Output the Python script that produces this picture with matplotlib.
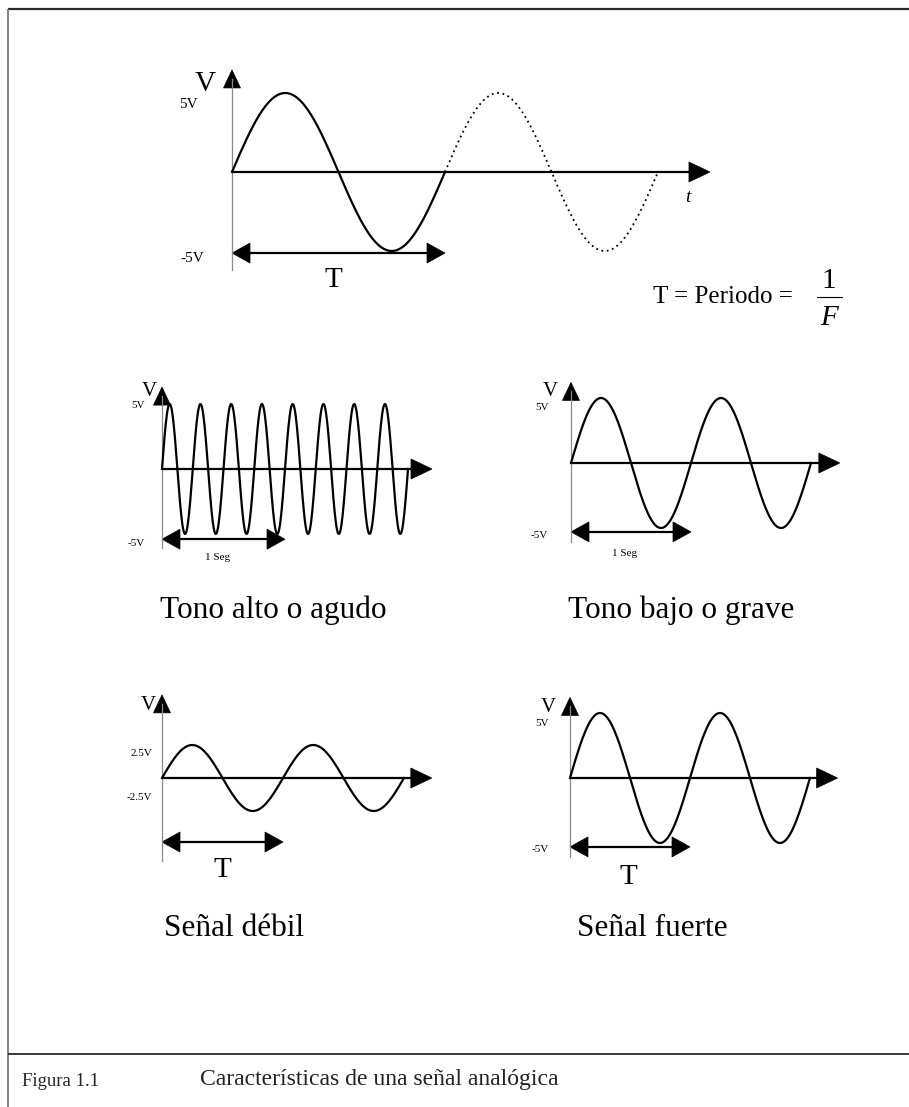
import numpy as np
import matplotlib
matplotlib.use("Agg")
import matplotlib.pyplot as plt
from matplotlib.patches import Polygon
from matplotlib import transforms

# ---------------- signal data ----------------
# main diagram: one drawn period plus one dotted continuation
main_amp = 5.0          # V
main_freq = 1.0         # one period per unit of t  (T = 1/F)
main_solid_cycles = 1
main_dotted_cycles = 1

# high / low pitch (1 s reference arrow)
high_amp = 5.0
high_freq = 4.0         # Hz
high_cycles = 8
low_amp = 5.0
low_freq = 1.0          # Hz
low_cycles = 2

# weak / strong signal (same period, different amplitude)
weak_amp = 2.5
strong_amp = 5.0
sig_freq = 1.0
sig_cycles = 2

captions = ["Tono alto o agudo", "Tono bajo o grave", "Señal débil", "Señal fuerte"]
amp_labels_main = ["5V", "-5V"]
amp_labels_weak = ["2.5V", "-2.5V"]

# ---------------- figure ----------------
W, H, DPI = 909, 1107, 100
SERIF = ["Liberation Serif", "DejaVu Serif"]
plt.rcParams["font.family"] = SERIF

fig = plt.figure(figsize=(W / DPI, H / DPI), dpi=DPI)
fig.patch.set_facecolor("white")

# page overlay in pixel units (frame, captions, labels)
page = fig.add_axes([0, 0, 1, 1])
page.set_xlim(0, W)
page.set_ylim(H, 0)
page.axis("off")
page.patch.set_alpha(0)

page.plot([8, W], [9, 9], color="#2a2a2a", lw=1.6, solid_capstyle="butt")
page.plot([8, 8], [9, H], color="#7a7a7a", lw=1.3, solid_capstyle="butt")
page.plot([8, W], [1054, 1054], color="#2a2a2a", lw=1.3, solid_capstyle="butt")
page.text(22, 1081, "Figura 1.1", fontsize=13.5, va="center", ha="left", color="#222")
page.text(200, 1080, "Características de una señal analógica", fontsize=17,
          va="center", ha="left", color="#222")


def panel(x0, y0, sx, sy, tmin, tmax, vmin, vmax):
    """Axes whose data origin sits at pixel (x0, y0); sx px per t-unit, sy px per volt."""
    left = (x0 + tmin * sx) / W
    right = (x0 + tmax * sx) / W
    top = 1 - (y0 - vmax * sy) / H
    bottom = 1 - (y0 - vmin * sy) / H
    ax = fig.add_axes([left, bottom, right - left, top - bottom])
    ax.set_xlim(tmin, tmax)
    ax.set_ylim(vmin, vmax)
    ax.axis("off")
    ax.patch.set_alpha(0)
    ax._sx, ax._sy = sx, sy
    return ax


def head(ax, x, y, direction, length=20, width=20, color="black"):
    """Filled triangular arrow head (pixel sized) with its tip at data point (x, y)."""
    L, w = length / DPI, width / 2 / DPI
    shapes = {
        "right": [(0, 0), (-L, w), (-L, -w)],
        "left": [(0, 0), (L, w), (L, -w)],
        "up": [(0, 0), (w, -L), (-w, -L)],
    }
    tr = fig.dpi_scale_trans + transforms.ScaledTranslation(x, y, ax.transData)
    ax.add_patch(Polygon(shapes[direction], closed=True, transform=tr,
                         facecolor=color, edgecolor=color, lw=0.5, clip_on=False))


def axes_lines(ax, t_tip, v_tip, v_bottom, xhead=(21, 20), yhead=(18, 17)):
    # horizontal time axis
    ax.plot([0, t_tip - xhead[0] / 2 / ax._sx], [0, 0], color="black", lw=1.6,
            solid_capstyle="butt", clip_on=False)
    head(ax, t_tip, 0, "right", *xhead)
    # vertical voltage axis (thin, grey)
    ax.plot([0, 0], [v_bottom, v_tip - yhead[0] / 2 / ax._sy], color="#8a8a8a", lw=0.9,
            clip_on=False)
    head(ax, 0, v_tip, "up", *yhead)


def span_arrow(ax, t0, t1, v, hl=18, hw=20):
    ax.plot([t0 + hl / 2 / ax._sx, t1 - hl / 2 / ax._sx], [v, v], color="black",
            lw=1.6, solid_capstyle="butt", clip_on=False)
    head(ax, t0, v, "left", hl, hw)
    head(ax, t1, v, "right", hl, hw)


def sine(ax, amp, freq, c_start, c_end, **kw):
    t = np.linspace(c_start / freq, c_end / freq, 400)
    ax.plot(t, amp * np.sin(2 * np.pi * freq * t), color="black", clip_on=False, **kw)


# ---------------- main diagram ----------------
ax = panel(232, 172, 213, 15.8, -0.05, 2.3, -7, 7)
axes_lines(ax, 2.244, 6.46, -6.2)
sine(ax, main_amp, main_freq, 0, main_solid_cycles, lw=1.6)
sine(ax, main_amp, main_freq, main_solid_cycles,
     main_solid_cycles + main_dotted_cycles, lw=1.3, linestyle=(0, (1, 2)))
span_arrow(ax, 0, 1 / main_freq, -5.13)

page.text(198, 104, amp_labels_main[0], fontsize=11, ha="right", va="center")
page.text(205, 84, "V", fontsize=21, ha="center", va="center")
page.text(204, 258, amp_labels_main[1], fontsize=11, ha="right", va="center")
page.text(333, 280, "T", fontsize=21, ha="center", va="center")
page.text(688, 198, "t", fontsize=14, ha="center", va="center", style="italic")
page.text(653, 297, "T = Periodo = ", fontsize=18, ha="left", va="center")
page.text(829, 281, "1", fontsize=21, ha="center", va="center")
page.plot([817, 842], [297, 297], color="black", lw=0.8)
page.text(829, 318, "F", fontsize=21, ha="center", va="center", style="italic")

# ---------------- high pitch ----------------
ax = panel(162, 469, 123, 13, -0.05, 2.3, -7, 7)
axes_lines(ax, 2.195, 6.3, -6.1)
sine(ax, high_amp, high_freq, 0, high_cycles, lw=1.6)
span_arrow(ax, 0, 1.0, -5.4)
page.text(157, 392, "V", fontsize=15, ha="right", va="center")
page.text(145, 406, "5V", fontsize=8, ha="right", va="center")
page.text(145, 543, "-5V", fontsize=8, ha="right", va="center")
page.text(218, 558, "1 Seg", fontsize=8, ha="center", va="center")
page.text(273, 610, captions[0], fontsize=22.5, ha="center", va="center")

# ---------------- low pitch ----------------
ax = panel(571, 463, 120, 13, -0.05, 2.3, -7, 7)
axes_lines(ax, 2.24, 6.2, -6.1)
sine(ax, low_amp, low_freq, 0, low_cycles, lw=1.6)
span_arrow(ax, 0, 1.0, -5.3)
page.text(558, 391, "V", fontsize=15, ha="right", va="center")
page.text(549, 407, "5V", fontsize=8, ha="right", va="center")
page.text(548, 536, "-5V", fontsize=8, ha="right", va="center")
page.text(625, 553, "1 Seg", fontsize=8, ha="center", va="center")
page.text(681, 610, captions[1], fontsize=22.5, ha="center", va="center")

# ---------------- weak signal ----------------
ax = panel(162, 778, 121, 13.2, -0.05, 2.3, -7, 7)
axes_lines(ax, 2.23, 6.3, -6.3)
sine(ax, weak_amp, sig_freq, 0, sig_cycles, lw=1.6)
span_arrow(ax, 0, 1 / sig_freq, -4.85)
page.text(156, 705, "V", fontsize=15, ha="right", va="center")
page.text(152, 753, amp_labels_weak[0], fontsize=8, ha="right", va="center")
page.text(152, 798, amp_labels_weak[1], fontsize=8, ha="right", va="center")
page.text(222, 870, "T", fontsize=21, ha="center", va="center")
page.text(234, 929, captions[2], fontsize=22.5, ha="center", va="center")

# ---------------- strong signal ----------------
ax = panel(570, 778, 120, 13, -0.05, 2.3, -7, 7)
axes_lines(ax, 2.23, 6.2, -6.1)
sine(ax, strong_amp, sig_freq, 0, sig_cycles, lw=1.6)
span_arrow(ax, 0, 1 / sig_freq, -5.3)
page.text(556, 708, "V", fontsize=15, ha="right", va="center")
page.text(549, 723, "5V", fontsize=8, ha="right", va="center")
page.text(549, 850, "-5V", fontsize=8, ha="right", va="center")
page.text(628, 877, "T", fontsize=21, ha="center", va="center")
page.text(652, 929, captions[3], fontsize=22.5, ha="center", va="center")

fig.savefig("out.png", dpi=DPI, facecolor="white")
